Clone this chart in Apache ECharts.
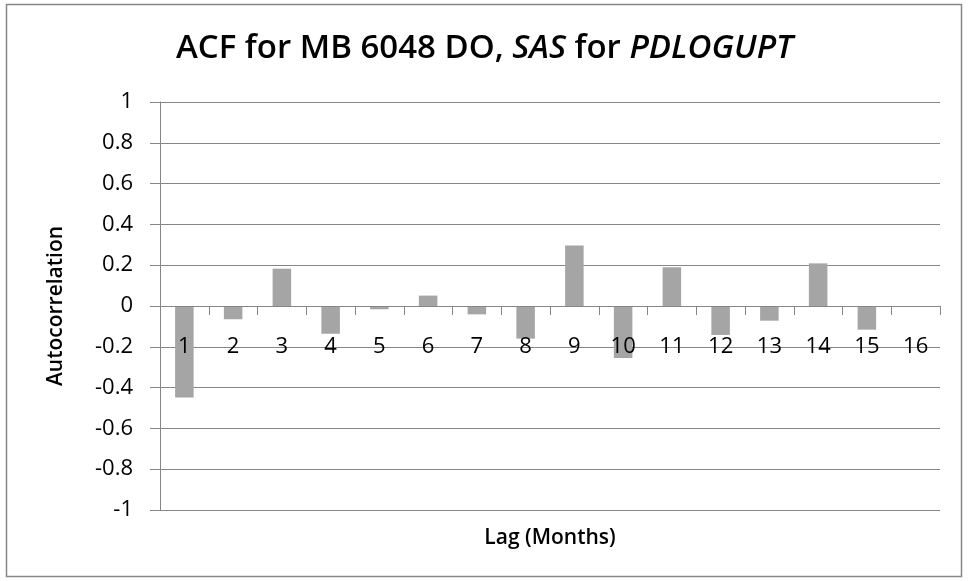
<!DOCTYPE html>
<html>
<head>
<meta charset="utf-8">
<script src="https://cdn.jsdelivr.net/npm/echarts@6/dist/echarts.min.js"></script>
<style>
html,body{margin:0;padding:0;background:#fff;}
#acf{width:969px;height:581px;}
</style>
</head>
<body>
<div id="acf"></div>
<script>
// lags and autocorrelation
var lags = ['1','2','3','4','5','6','7','8','9','10','11','12','13','14','15','16'];
var acf = [-0.448, -0.065, 0.183, -0.136, -0.016, 0.051, -0.041, -0.16, 0.297, -0.255, 0.19, -0.142, -0.072, 0.209, -0.116, 0];

var fontName = 'Open Sans';
var gray = '#868686';
var chart = echarts.init(document.getElementById('acf'));
chart.setOption({
  animation: false,
  backgroundColor: '#fff',
  textStyle: {fontFamily: fontName},
  title: {
    text: '{n|ACF for MB 6048 DO, }{i|SAS}{n| for }{i|PDLOGUPT}',
    left: 'center',
    top: 27,
    textStyle: {
      rich: {
        n: {fontFamily: fontName, fontSize: 33, fontWeight: 600, color: '#000'},
        i: {fontFamily: fontName, fontSize: 33, fontWeight: 600, fontStyle: 'italic', color: '#000'}
      }
    }
  },
  graphic: [{
    type: 'rect',
    shape: {x: 6.5, y: 4.5, width: 955, height: 572},
    style: {fill: 'none', stroke: gray, lineWidth: 1.5},
    silent: true
  }],
  grid: {left: 160, right: 29, top: 102, bottom: 71, outerBoundsMode: 'none', containLabel: false},
  xAxis: {
    type: 'category',
    data: lags,
    position: 'bottom',
    offset: -204,   // puts the axis on the zero line
    z: 5,           // labels sit on top of the bars
    name: 'Lag (Months)',
    nameLocation: 'middle',
    nameGap: 222,
    nameTextStyle: {fontSize: 21, fontWeight: 600, color: '#000'},
    axisLine: {onZero: false, lineStyle: {color: gray, width: 1}},
    axisTick: {show: true, interval: 0, length: 9, lineStyle: {color: gray}},
    axisLabel: {fontSize: 22, color: '#000', margin: 30, interval: 0},
    splitLine: {show: false}
  },
  yAxis: {
    type: 'value',
    min: -1,
    max: 1,
    interval: 0.2,
    name: 'Autocorrelation',
    nameLocation: 'middle',
    nameGap: 93,
    nameTextStyle: {fontSize: 21, fontWeight: 600, color: '#000'},
    axisLine: {show: true, lineStyle: {color: gray}},
    axisTick: {show: true, length: 10, lineStyle: {color: gray}},
    axisLabel: {fontSize: 22, color: '#000', margin: 27},
    splitLine: {lineStyle: {color: gray, width: 1}}
  },
  series: [{
    type: 'bar',
    data: acf,
    barWidth: '38%',
    itemStyle: {color: '#a5a5a5'}
  }]
});
</script>
</body>
</html>
